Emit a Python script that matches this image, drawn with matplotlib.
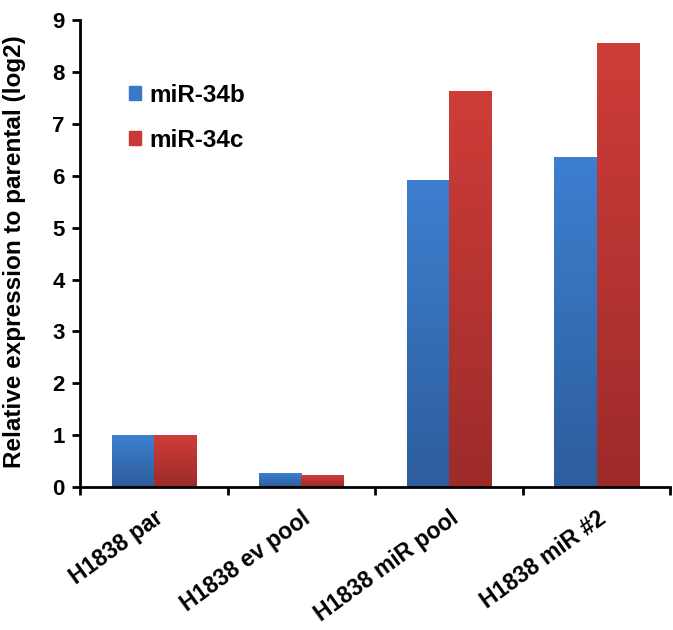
import numpy as np
import matplotlib
matplotlib.use("Agg")
import matplotlib.pyplot as plt
from matplotlib.colors import LinearSegmentedColormap

# data
categories = ["H1838 par", "H1838 ev pool", "H1838 miR pool", "H1838 miR #2"]
mir34b = [1.0, 0.26, 5.9, 6.36]
mir34c = [1.0, 0.23, 7.63, 8.55]
series_names = ["miR-34b", "miR-34c"]

plt.rcParams['font.family'] = ['Liberation Sans', 'DejaVu Sans']
plt.rcParams['font.weight'] = 'bold'

fig = plt.figure(figsize=(6.73, 6.30), dpi=100)
ax = fig.add_axes([0.119, 0.227, 0.877, 0.741])

x = np.arange(len(categories))
w = 0.285

blue_cm = LinearSegmentedColormap.from_list("b", ["#2d5d9c", "#3d7fd0"])
red_cm = LinearSegmentedColormap.from_list("r", ["#9c2b2a", "#cf3d39"])
grad = np.linspace(0, 1, 256).reshape(-1, 1)


def gradient_bars(xs, vals, cmap):
    bars = ax.bar(xs, vals, w, color="none", zorder=2)
    for b in bars:
        x0, y0 = b.get_x(), b.get_y()
        ax.imshow(grad, cmap=cmap, origin="lower", aspect="auto",
                  extent=[x0, x0 + b.get_width(), y0, y0 + b.get_height()],
                  zorder=2)
    return bars


gradient_bars(x - w / 2, mir34b, blue_cm)
gradient_bars(x + w / 2, mir34c, red_cm)

ax.set_xlim(-0.5, len(categories) - 0.5)
ax.set_ylim(0, 9)
ax.set_yticks(range(10))
ax.set_xticks(np.arange(len(categories) + 1) - 0.5)
ax.set_xticklabels([])
ax.set_xticks(x, minor=True)
ax.set_xticklabels(categories, minor=True, rotation=36, ha="right",
                   rotation_mode="anchor", fontsize=16.5, fontweight="bold")
ax.tick_params(axis="x", which="minor", length=0, pad=14)
ax.tick_params(axis="x", which="major", length=6, width=2, direction="out")
ax.tick_params(axis="y", length=6, width=2, direction="out", labelsize=16,
               pad=5)
for lab in ax.get_yticklabels():
    lab.set_fontweight("bold")

for s in ["top", "right"]:
    ax.spines[s].set_visible(False)
for s in ["left", "bottom"]:
    ax.spines[s].set_linewidth(2)

ax.set_ylabel("Relative expression to parental (log2)", fontsize=17.5,
              fontweight="bold")
ax.yaxis.set_label_coords(-0.092, 0.505)

ax.legend([plt.Rectangle((0, 0), 1, 1, color="#3a78c9"),
           plt.Rectangle((0, 0), 1, 1, color="#c93a37")],
          series_names, loc="upper left", bbox_to_anchor=(0.045, 0.91),
          frameon=False, handlelength=0.5, handleheight=0.5,
          handletextpad=0.35, labelspacing=0.9,
          prop={"weight": "bold", "size": 17.5})

fig.savefig("out.png", dpi=100)
